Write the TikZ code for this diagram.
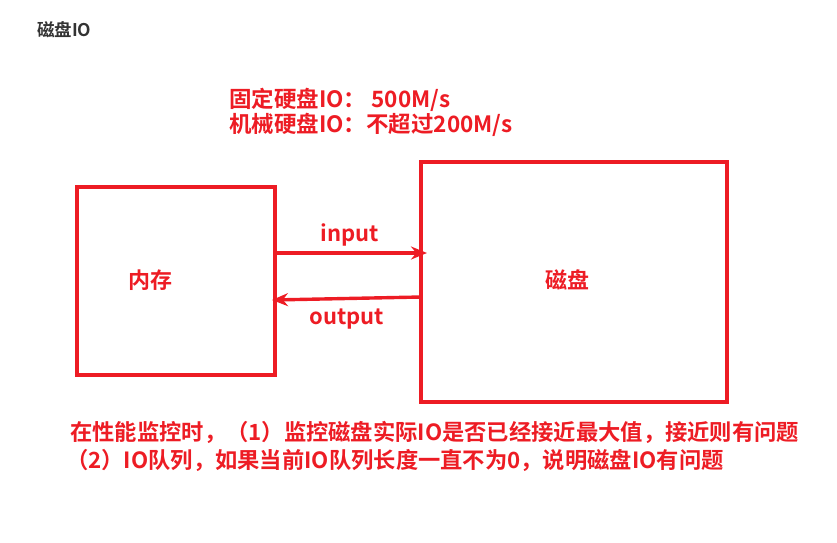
\documentclass[tikz,border=0pt]{standalone}
\usepackage{fontspec}
\setmainfont{Noto Sans CJK SC}
\newfontfamily\cjkbold{Noto Sans CJK SC Bold}
\usetikzlibrary{arrows.meta,positioning}
\definecolor{hotred}{RGB}{237,28,36}
\definecolor{titlegray}{RGB}{51,51,51}

\begin{document}
\begin{tikzpicture}[x=1pt, y=-1pt,
    box/.style={draw=hotred, line width=3.4pt},
    arrow/.style={-{Stealth[length=16pt, width=13pt]}, draw=hotred, line width=3.4pt},
    lbl/.style={text=hotred, font=\cjkbold\fontsize{22}{26}\selectfont, inner sep=0pt},
    note/.style={text=hotred, font=\cjkbold\fontsize{22.3}{28}\selectfont, inner sep=0pt, anchor=west},
  ]
  \useasboundingbox (0,0) rectangle (837,542);
  \node[anchor=west, inner sep=0pt, text=titlegray, font=\cjkbold\fontsize{17.5}{20}\selectfont] (title) at (37,30) {磁盘IO};

  \node[note, font=\cjkbold\fontsize{22.5}{26}\selectfont] (fixed) at (229,100) {固定硬盘IO：\ 500M/s};
  \node[note, font=\cjkbold\fontsize{22.5}{26}\selectfont] (mech) at (229,125) {机械硬盘IO：不超过200M/s};

  % memory and disk
  \draw[box] (77,187) rectangle (275,375);
  \draw[box] (421,162) rectangle (727,402);
  \node[lbl] (mem) at (150,280) {内存};
  \node[lbl] (disk) at (567,280) {磁盘};
  \coordinate (memin) at (273,253);
  \coordinate (diskin) at (427,253);
  \coordinate (diskout) at (421,297);
  \coordinate (memout) at (272,300);

  \draw[arrow] (memin) -- (diskin) node[midway, above=5pt, lbl] {input};
  \draw[arrow] (diskout) -- (memout) node[midway, below=9pt, lbl] {output};

  \node[note] (line1) at (70,432) {在性能监控时，（1）监控磁盘实际IO是否已经接近最大值，接近则有问题};
  \node[note] (line2) at (66,460) {（2）IO队列，如果当前IO队列长度一直不为0，说明磁盘IO有问题};
\end{tikzpicture}
\end{document}
